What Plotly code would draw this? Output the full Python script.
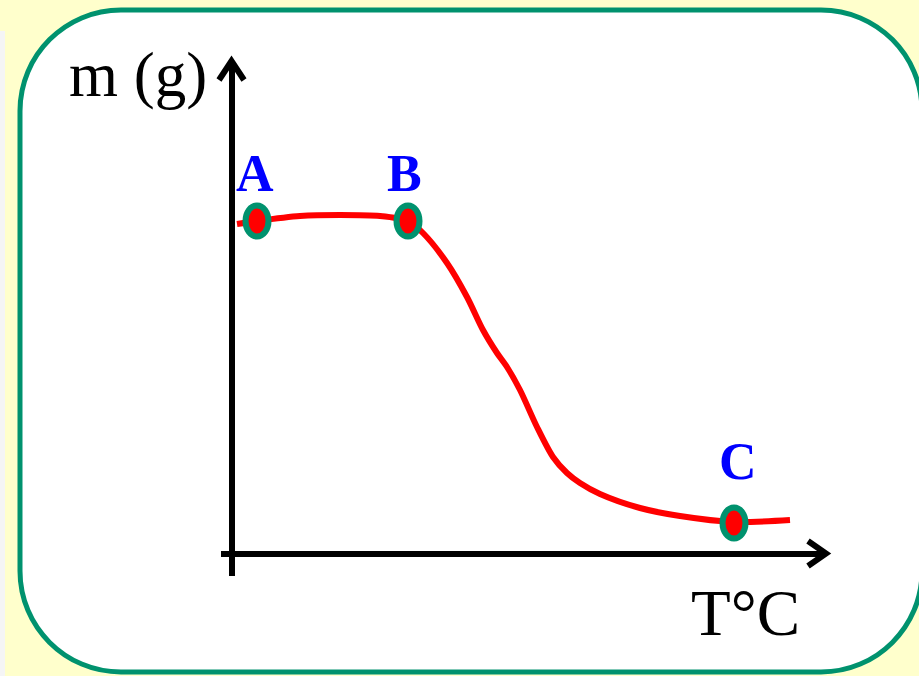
import plotly.graph_objects as go

W, H = 919, 676

# Curve data (arbitrary units: T along x, mass along y)
temps = [5.5, 25.5, 68.5, 108.5, 148.5, 176.5, 191.5, 215.5, 235.5, 251.5, 265.5,
         275.5, 288.5, 305.5, 321.5, 335.5, 348.5, 368.5, 408.5, 448.5, 502.5, 558.5]
masses = [329.5, 332.5, 337.5, 338.5, 337.5, 332.5, 320.5, 290.5, 256.5, 223.5, 200.5,
          186.5, 163.5, 126.5, 96.5, 80.5, 70.5, 59.5, 45.5, 37.5, 31.5, 33.5]

point_labels = ["A", "B", "C"]
point_T = [25.5, 176.5, 502.5]
point_m = [332.5, 332.5, 30.5]
label_shift = [47, 47, 62]
label_xshift = [-2, -4, 4]

x_title = "T°C"
y_title = "m (g)"

GREEN = "#00926E"
SERIF = "Liberation Serif, Times New Roman, serif"

def fx(x):
    return x / W

def fy(y):
    return 1 - y / H

def P(x, y):
    return f"{fx(x):.5f},{fy(y):.5f}"

# origin in pixels
OX, OY = 231.5, 553.5
XL, XR = 221, 826
YT, YB = 61, 576

fig = go.Figure()
fig.add_trace(go.Scatter(
    x=temps, y=masses, mode="lines",
    line=dict(color="#FF0000", width=6, shape="spline", smoothing=0.8),
    hoverinfo="skip", showlegend=False))

shapes = []
# white rounded panel
x0, y0, x1, y1, r = 20, 10, 922, 672, 101
k = 0.5523 * r
path = (f"M{P(x0 + r, y0)} L{P(x1 - r, y0)} "
        f"C{P(x1 - r + k, y0)} {P(x1, y0 + r - k)} {P(x1, y0 + r)} "
        f"L{P(x1, y1 - r)} C{P(x1, y1 - r + k)} {P(x1 - r + k, y1)} {P(x1 - r, y1)} "
        f"L{P(x0 + r, y1)} C{P(x0 + r - k, y1)} {P(x0, y1 - r + k)} {P(x0, y1 - r)} "
        f"L{P(x0, y0 + r)} C{P(x0, y0 + r - k)} {P(x0 + r - k, y0)} {P(x0 + r, y0)} Z")
shapes.append(dict(type="rect", xref="paper", yref="paper", x0=0, x1=fx(5), y0=0, y1=fy(31),
                   fillcolor="#F5F5F5", line=dict(width=0), layer="below"))
shapes.append(dict(type="path", xref="paper", yref="paper", path=path,
                   fillcolor="white", line=dict(color=GREEN, width=5), layer="below"))

# arrow chevrons
shapes.append(dict(type="path", xref="paper", yref="paper",
                   path=f"M{P(808, 541)} L{P(826, 553.5)} L{P(808, 566)}",
                   line=dict(color="black", width=6)))
shapes.append(dict(type="path", xref="paper", yref="paper",
                   path=f"M{P(219, 80)} L{P(231.5, 61)} L{P(244, 80)}",
                   line=dict(color="black", width=6)))

# elliptical point markers
for t, m in zip(point_T, point_m):
    shapes.append(dict(type="circle", xref="x", yref="y",
                       xsizemode="pixel", ysizemode="pixel",
                       xanchor=t, yanchor=m, x0=-11.5, x1=11.5, y0=-15.5, y1=15.5,
                       fillcolor="#FF0000", line=dict(color=GREEN, width=6)))

annotations = []
for lab, t, m, s, xs in zip(point_labels, point_T, point_m, label_shift, label_xshift):
    annotations.append(dict(x=t, y=m, xref="x", yref="y", text=lab, showarrow=False,
                            yshift=s, xshift=xs, xanchor="center", yanchor="middle",
                            font=dict(family=SERIF, size=52, color="#0000FF", weight="bold")))
annotations.append(dict(x=fx(138), y=fy(75), xref="paper", yref="paper", text=y_title,
                        showarrow=False, xanchor="center", yanchor="middle",
                        font=dict(family=SERIF, size=63, color="black")))
annotations.append(dict(x=fx(745), y=fy(613), xref="paper", yref="paper", text=x_title,
                        showarrow=False, xanchor="center", yanchor="middle",
                        font=dict(family=SERIF, size=65, color="black")))

fig.update_layout(
    width=W, height=H, margin=dict(l=0, r=0, t=0, b=0),
    paper_bgcolor="#FFFFCC", plot_bgcolor="rgba(0,0,0,0)",
    shapes=shapes, annotations=annotations, showlegend=False,
    xaxis=dict(domain=[fx(XL), fx(XR)], range=[XL - OX, XR - OX],
               showgrid=False, showticklabels=False, ticks="", showline=False,
               zeroline=True, zerolinecolor="black", zerolinewidth=6, fixedrange=True),
    yaxis=dict(domain=[fy(YB), fy(YT)], range=[OY - YB, OY - YT],
               showgrid=False, showticklabels=False, ticks="", showline=False,
               zeroline=True, zerolinecolor="black", zerolinewidth=6, fixedrange=True),
)

fig.write_html("out.html", config={"displayModeBar": False},
               post_script="document.body.style.margin='0';document.body.style.overflow='hidden';")
